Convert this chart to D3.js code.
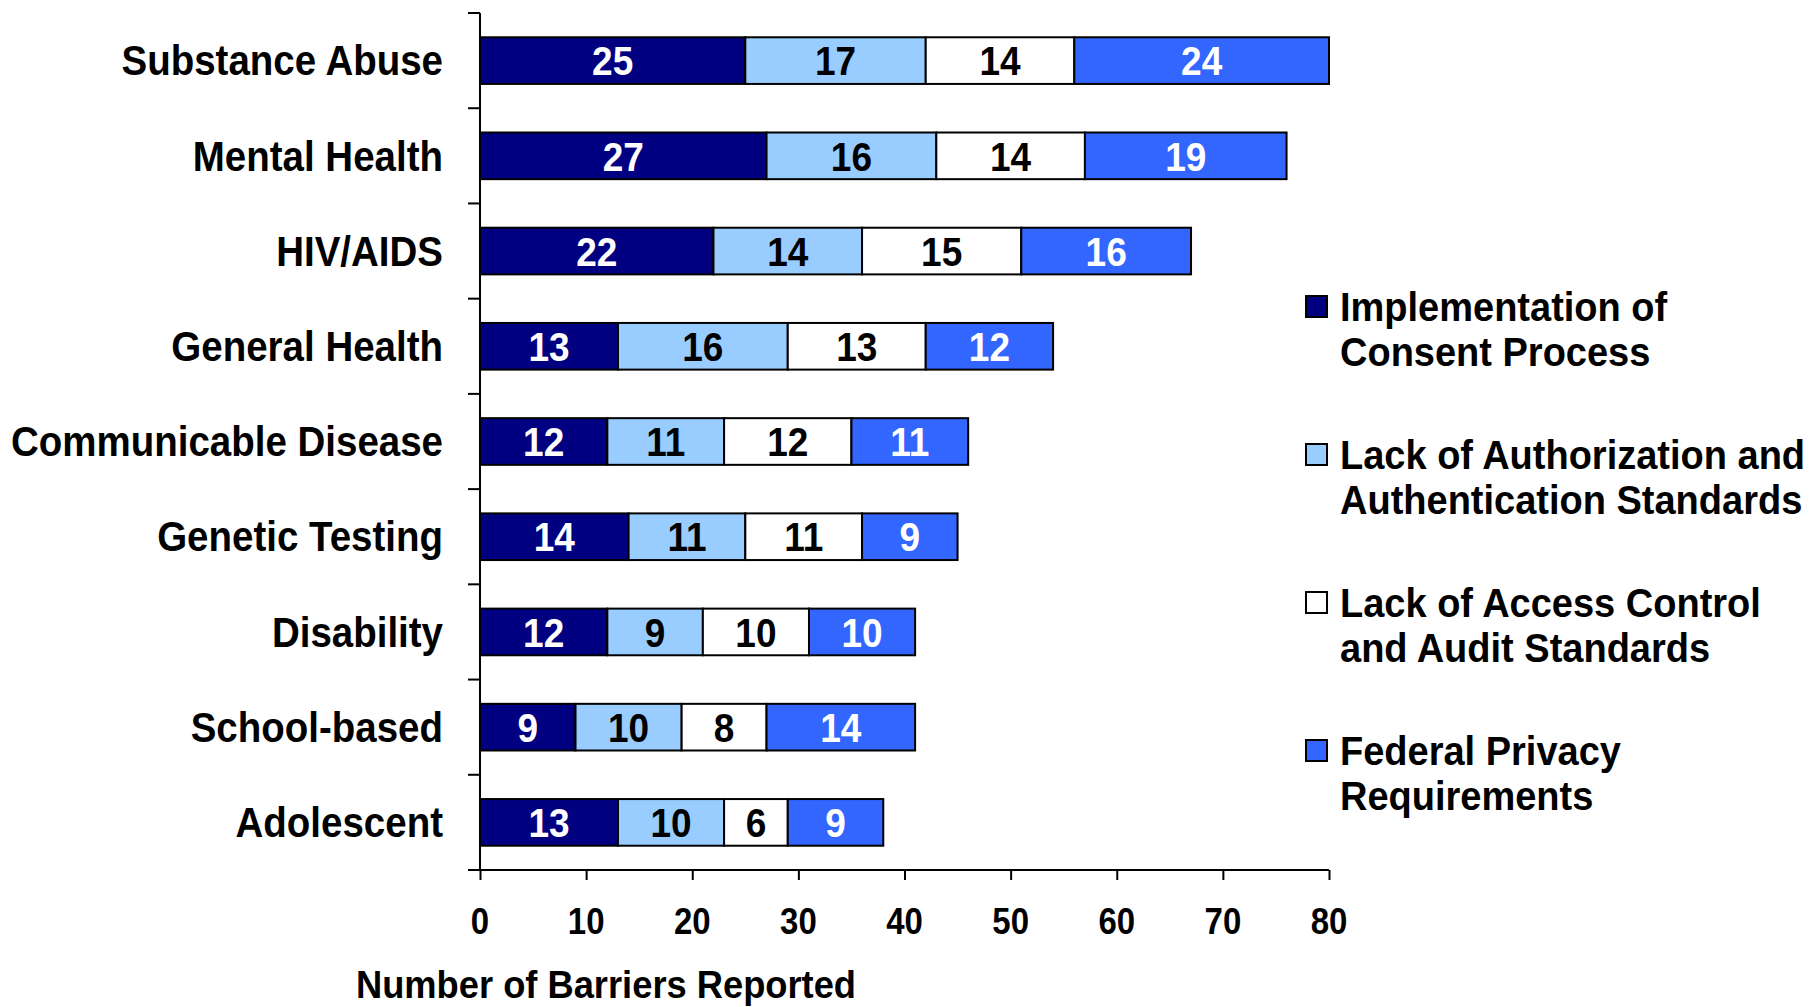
<!DOCTYPE html>
<html><head><meta charset="utf-8">
<script src="https://cdn.jsdelivr.net/npm/d3@7"></script>
<style>body{margin:0;background:#fff}svg{display:block}text{font-family:"Liberation Sans",Arial,sans-serif;font-weight:bold}</style>
</head><body><svg id="c" width="1810" height="1007"></svg>
<script>
const categories = ["Substance Abuse","Mental Health","HIV/AIDS","General Health","Communicable Disease","Genetic Testing","Disability","School-based","Adolescent"];
const seriesNames = ["Implementation of|Consent Process","Lack of Authorization and|Authentication Standards","Lack of Access Control|and Audit Standards","Federal Privacy|Requirements"];
const consent   = [25,27,22,13,12,14,12, 9,13];
const authStd   = [17,16,14,16,11,11, 9,10,10];
const accessStd = [14,14,15,13,12,11,10, 8, 6];
const federal   = [24,19,16,12,11, 9,10,14, 9];
const xTicks = [0,10,20,30,40,50,60,70,80];
const colors = ["#000080","#99CCFF","#FFFFFF","#3366FF"];
const labelColors = ["#fff","#000","#000","#fff"];
const xTitle = "Number of Barriers Reported";

const SY = 1.12; // vertical stretch of text in reference
const series = [consent, authStd, accessStd, federal];
const rows = categories.map((c,i)=>{const o={cat:c}; series.forEach((s,k)=>o["s"+k]=s[i]); return o;});
const stack = d3.stack().keys(["s0","s1","s2","s3"])(rows);

const svg = d3.select("#c");
const x = d3.scaleLinear().domain([0,80]).range([480,1329]);
const y = d3.scaleBand().domain(categories).range([13,870]).paddingInner(0.51).paddingOuter(0.255);

function at(fx, fy){ return (d,i)=>`translate(${fx(d,i)},${fy(d,i)}) scale(1,${SY})`; }

// bars
stack.forEach((layer,k)=>{
  const g = svg.append("g");
  g.selectAll("rect").data(layer).join("rect")
    .attr("x",d=>x(d[0])).attr("y",d=>y(d.data.cat))
    .attr("width",d=>x(d[1])-x(d[0])).attr("height",y.bandwidth())
    .attr("fill",colors[k]).attr("stroke","#000").attr("stroke-width",2);
  g.selectAll("text").data(layer).join("text")
    .attr("transform",at(d=>(x(d[0])+x(d[1]))/2, d=>y(d.data.cat)+y.bandwidth()/2))
    .attr("text-anchor","middle").attr("dominant-baseline","central")
    .attr("font-size",37).attr("fill",labelColors[k])
    .text(d=>d[1]-d[0]);
});

// y axis
const step = y.step();
svg.append("line").attr("x1",480).attr("x2",480).attr("y1",13).attr("y2",870).attr("stroke","#000").attr("stroke-width",2);
const bounds = d3.range(categories.length).map(i=>y(categories[i]) - y.paddingOuter()*step);
svg.selectAll(".ytick").data(bounds).join("line").attr("class","ytick")
  .attr("x1",468).attr("x2",480).attr("y1",d=>d).attr("y2",d=>d).attr("stroke","#000").attr("stroke-width",2);
svg.selectAll(".ylab").data(categories).join("text").attr("class","ylab")
  .attr("transform",at(()=>443, d=>y(d)+y.bandwidth()/2)).attr("text-anchor","end")
  .attr("dominant-baseline","central").attr("font-size",38.5).attr("fill","#000").text(d=>d);

// x axis
const xa = svg.append("g").attr("transform","translate(0,870)")
  .call(d3.axisBottom(x).tickValues(xTicks).tickSize(10).tickFormat(""));
xa.select(".domain").remove();
xa.selectAll("line").attr("stroke","#000").attr("stroke-width",2);
svg.selectAll(".xlab").data(xTicks).join("text").attr("class","xlab")
  .attr("transform",at(d=>x(d), ()=>921)).attr("text-anchor","middle").attr("dominant-baseline","central")
  .attr("font-size",33).attr("fill","#000").text(d3.format("d"));
svg.append("line").attr("x1",468).attr("x2",1329).attr("y1",870).attr("y2",870).attr("stroke","#000").attr("stroke-width",2);

svg.append("text").attr("transform",`translate(606,985) scale(1,1.08)`).attr("text-anchor","middle").attr("dominant-baseline","central")
  .attr("font-size",36.3).attr("fill","#000").text(xTitle);

// legend
const lg = svg.append("g");
seriesNames.forEach((n,k)=>{
  const cy = 307 + k*148;
  lg.append("rect").attr("x",1306).attr("y",cy-11).attr("width",21).attr("height",21)
    .attr("fill",colors[k]).attr("stroke","#000").attr("stroke-width",2);
  n.split("|").forEach((line,j)=>{
    lg.append("text").attr("transform",`translate(1340,${cy + j*45}) scale(1,1.05)`).attr("dominant-baseline","central")
      .attr("font-size",38).attr("fill","#000").text(line);
  });
});
</script></body></html>
